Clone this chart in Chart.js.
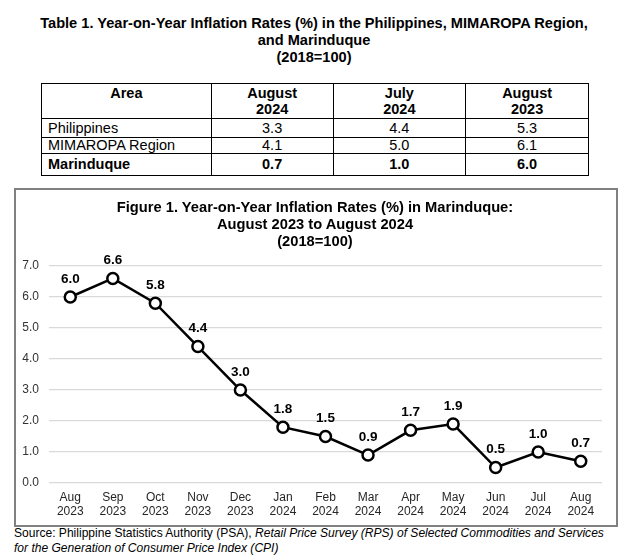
<!DOCTYPE html>
<html>
<head>
<meta charset="utf-8">
<script src="https://cdn.jsdelivr.net/npm/chart.js@4/dist/chart.umd.min.js"></script>
<style>
  html, body { margin:0; padding:0; background:#fff; }
  body { width:625px; height:560px; position:relative; overflow:hidden; font-family:"Liberation Sans", Arial, sans-serif; color:#000; }
  .ttl { position:absolute; left:0; width:628px; text-align:center; font-weight:bold; font-size:14.6px; line-height:17px; }
  table { position:absolute; left:41px; top:83px; width:548px; border-collapse:collapse; font-size:14.5px; }
  td, th { border:1px solid #000; padding:0; }
  th { font-weight:bold; vertical-align:top; line-height:16px; padding-top:1px; height:33px; }
  td { line-height:15px; text-align:center; }
  td.a { text-align:left; padding-left:6px; }
  tr.b td { font-weight:bold; }
  #box { position:absolute; left:14px; top:188px; width:600px; height:335px; border:2px solid #808080; }
  #wrap { position:absolute; left:0; top:188px; width:625px; height:337px; }
  #ftitle { position:absolute; left:0; top:199px; width:630px; text-align:center; font-weight:bold; font-size:14.7px; line-height:17px; z-index:2; }
  .src { position:absolute; left:14px; font-size:12.05px; line-height:15px; white-space:nowrap; }
</style>
</head>
<body>
<div class="ttl" style="top:15px">Table 1. Year-on-Year Inflation Rates (%) in the Philippines, MIMAROPA Region,<br>and Marinduque<br>(2018=100)</div>
<table>
  <colgroup><col style="width:170px"><col style="width:122px"><col style="width:133px"><col style="width:123px"></colgroup>
  <tr><th>Area</th><th>August<br>2024</th><th>July<br>2024</th><th>August<br>2023</th></tr>
  <tr style="height:19px"><td class="a">Philippines</td><td>3.3</td><td>4.4</td><td>5.3</td></tr>
  <tr style="height:16px"><td class="a">MIMAROPA Region</td><td>4.1</td><td>5.0</td><td>6.1</td></tr>
  <tr class="b" style="height:22px"><td class="a">Marinduque</td><td>0.7</td><td>1.0</td><td>6.0</td></tr>
</table>
<div id="box"></div>
<div id="wrap"><canvas id="c" width="625" height="337"></canvas></div>
<div id="ftitle"></div>
<div class="src" style="top:526px">Source: Philippine Statistics Authority (PSA), <i>Retail Price Survey (RPS) of Selected Commodities and Services</i></div>
<div class="src" style="top:541px"><i>for the Generation of Consumer Price Index (CPI)</i></div>
<script>
const monthLabels = ["Aug","Sep","Oct","Nov","Dec","Jan","Feb","Mar","Apr","May","Jun","Jul","Aug"];
const yearLabels = ["2023","2023","2023","2023","2023","2024","2024","2024","2024","2024","2024","2024","2024"];
const inflationRates = [6.0, 6.6, 5.8, 4.4, 3.0, 1.8, 1.5, 0.9, 1.7, 1.9, 0.5, 1.0, 0.7];
const yTicks = [0, 1, 2, 3, 4, 5, 6, 7];
const chartTitle = ["Figure 1. Year-on-Year Inflation Rates (%) in Marinduque:", "August 2023 to August 2024", "(2018=100)"];

const FONT = '"Liberation Sans", Arial, sans-serif';
const labels = monthLabels.map((m, i) => [m, yearLabels[i]]);

const ft = document.getElementById('ftitle');
chartTitle.forEach((line, i) => {
  if (i) ft.appendChild(document.createElement('br'));
  ft.appendChild(document.createTextNode(line));
});

const valueLabels = {
  id: 'valueLabels',
  afterDatasetsDraw(chart) {
    const ctx = chart.ctx;
    const meta = chart.getDatasetMeta(0);
    ctx.save();
    ctx.font = 'bold 13.5px ' + FONT;
    ctx.fillStyle = '#000';
    ctx.textAlign = 'center';
    ctx.textBaseline = 'middle';
    meta.data.forEach((pt, i) => {
      ctx.fillText(inflationRates[i].toFixed(1), pt.x, pt.y - 18);
    });
    ctx.restore();
  }
};

new Chart(document.getElementById('c'), {
  type: 'line',
  data: {
    labels: labels,
    datasets: [{
      data: inflationRates,
      borderColor: '#000',
      borderWidth: 2.5,
      tension: 0,
      pointRadius: 5.5,
      pointBorderWidth: 2.5,
      pointBackgroundColor: '#fff',
      pointBorderColor: '#000',
      clip: false
    }]
  },
  options: {
    responsive: false,
    animation: false,
    devicePixelRatio: 1,
    layout: { padding: { left: 0, right: 23, top: 78, bottom: 2 } },
    plugins: {
      legend: { display: false },
      tooltip: { enabled: false },
      title: { display: false }
    },
    scales: {
      x: {
        offset: true,
        grid: { display: false, drawTicks: false },
        border: { display: false },
        ticks: { color: '#262626', font: { family: FONT, size: 12 }, padding: 7, maxRotation: 0, autoSkip: false },
        afterFit(s) { s.height = 40; }
      },
      y: {
        min: 0, max: 7,
        afterBuildTicks(s) { s.ticks = yTicks.map(v => ({ value: v })); },
        grid: { color: '#d9d9d9', lineWidth: 1.3, drawTicks: false },
        border: { display: false },
        ticks: { color: '#333', font: { family: FONT, size: 12 }, padding: 10, callback: v => Number(v).toFixed(1) },
        afterFit(s) { s.width = 49; }
      }
    }
  },
  plugins: [valueLabels]
});
</script>
</body>
</html>
